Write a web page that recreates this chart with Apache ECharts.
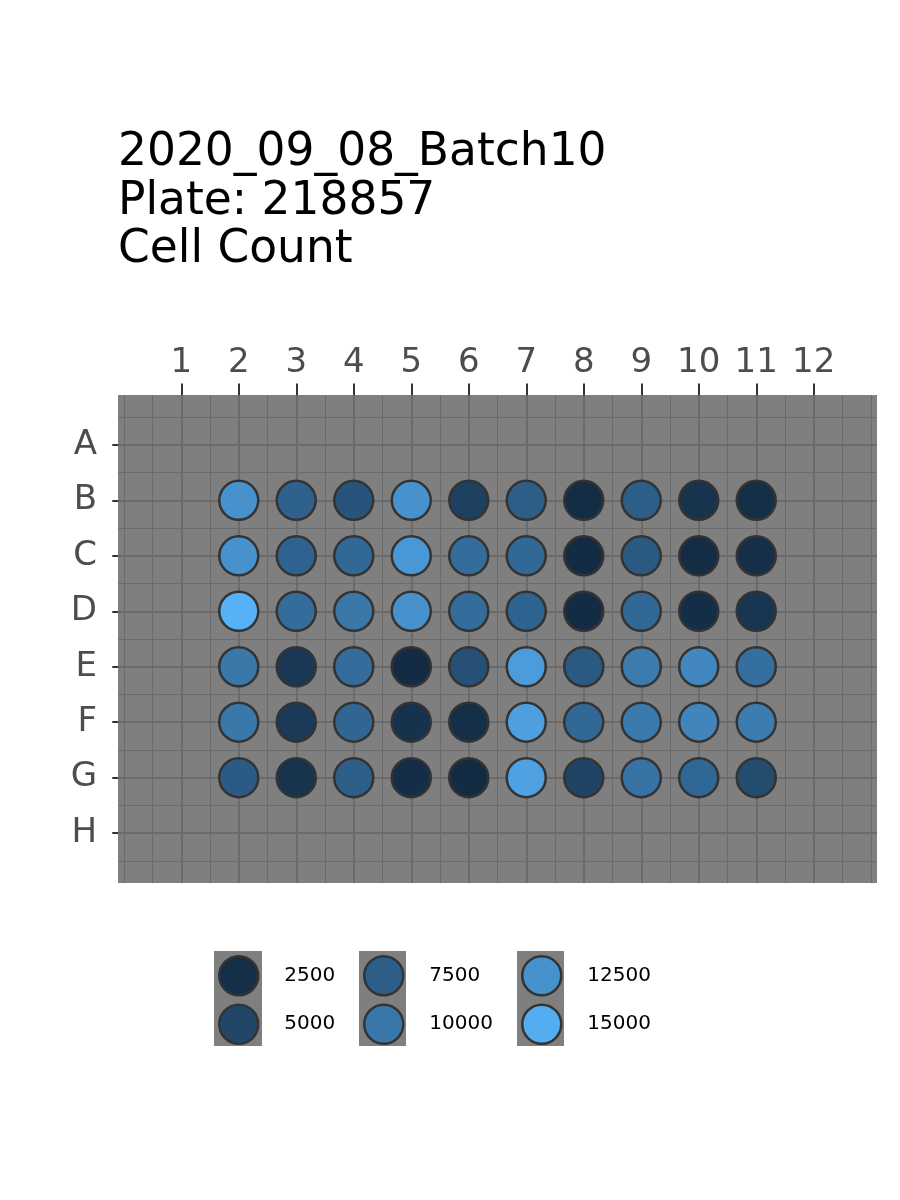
<!DOCTYPE html>
<html>
<head>
<meta charset="utf-8">
<script src="https://cdn.jsdelivr.net/npm/echarts@6/dist/echarts.min.js"></script>
<style>html,body{margin:0;padding:0;background:#fff}#c{width:900px;height:1200px}</style>
</head>
<body>
<div id="c"></div>
<script>
// ---------- data ----------
const titleLines = ['2020_09_08_Batch10', 'Plate: 218857', 'Cell Count'];
const colLabels = [1, 2, 3, 4, 5, 6, 7, 8, 9, 10, 11, 12];
const rowLabels = ['A', 'B', 'C', 'D', 'E', 'F', 'G', 'H'];
const wellCols = [2, 3, 4, 5, 6, 7, 8, 9, 10, 11];
const wellRows = ['B', 'C', 'D', 'E', 'F', 'G'];
const rowB = [12500, 7800, 6500, 12500, 4500, 7500, 2200, 7500, 3000, 2500];
const rowC = [12500, 8000, 8500, 13000, 9000, 8500, 2100, 7000, 2200, 2400];
const rowD = [15400, 9000, 10000, 12500, 9000, 8000, 2100, 8500, 2300, 3200];
const rowE = [10000, 3500, 9000, 2000, 6000, 13500, 7000, 10300, 11500, 9200];
const rowF = [10000, 3700, 8300, 2800, 2400, 13800, 8500, 10200, 11300, 10500];
const rowG = [7200, 2900, 7600, 2300, 2100, 14000, 4800, 9600, 8400, 5600];
const legendBreaks = [2500, 5000, 7500, 10000, 12500, 15000];
const lowColor = '#132B43';
const highColor = '#56B1F7';

// ---------- colour scale (Lab interpolation like ggplot) ----------
function srgbToLin(c) { c /= 255; return c <= 0.04045 ? c / 12.92 : Math.pow((c + 0.055) / 1.055, 2.4); }
function linToSrgb(c) { c = c <= 0.0031308 ? 12.92 * c : 1.055 * Math.pow(c, 1 / 2.4) - 0.055; return Math.max(0, Math.min(255, Math.round(c * 255))); }
const Xn = 0.95047, Yn = 1.0, Zn = 1.08883;
function f(t) { return t > 216 / 24389 ? Math.cbrt(t) : (24389 / 27 * t + 16) / 116; }
function finv(t) { return t * t * t > 216 / 24389 ? t * t * t : (116 * t - 16) / (24389 / 27); }
function hexToLab(hex) {
  const r = srgbToLin(parseInt(hex.slice(1, 3), 16)), g = srgbToLin(parseInt(hex.slice(3, 5), 16)), b = srgbToLin(parseInt(hex.slice(5, 7), 16));
  const X = 0.4124 * r + 0.3576 * g + 0.1805 * b, Y = 0.2126 * r + 0.7152 * g + 0.0722 * b, Z = 0.0193 * r + 0.1192 * g + 0.9505 * b;
  const fx = f(X / Xn), fy = f(Y / Yn), fz = f(Z / Zn);
  return [116 * fy - 16, 500 * (fx - fy), 200 * (fy - fz)];
}
function labToHex(lab) {
  const fy = (lab[0] + 16) / 116, fx = fy + lab[1] / 500, fz = fy - lab[2] / 200;
  const X = Xn * finv(fx), Y = Yn * finv(fy), Z = Zn * finv(fz);
  const r = 3.2406 * X - 1.5372 * Y - 0.4986 * Z, g = -0.9689 * X + 1.8758 * Y + 0.0415 * Z, b = 0.0557 * X - 0.2040 * Y + 1.0570 * Z;
  return '#' + [r, g, b].map(v => linToSrgb(v).toString(16).padStart(2, '0')).join('');
}
const labLo = hexToLab(lowColor), labHi = hexToLab(highColor);
function colorAt(t) { t = Math.max(0, Math.min(1, t)); return labToHex(labLo.map((v, i) => v + (labHi[i] - v) * t)); }

// ---------- build ----------
const rowValues = { B: rowB, C: rowC, D: rowD, E: rowE, F: rowF, G: rowG };
const wellData = [];
wellRows.forEach(r => {
  const ri = rowLabels.indexOf(r) + 1;
  rowValues[r].forEach((v, j) => wellData.push([wellCols[j], ri, v]));
});
const allVals = wellData.map(d => d[2]);
const vMin = Math.min(...allVals), vMax = Math.max(...allVals);
const stops = [];
for (let i = 0; i <= 20; i++) stops.push(colorAt(i / 20));

const xMin = -0.1, xMax = 13.1, yMin = 0.1, yMax = 8.9;
const gridColor = '#6b6b6b';
const markData = [];
for (let v = 0; v <= 13; v += 0.5) {
  if (v > xMin && v < xMax) markData.push({ xAxis: v, lineStyle: { width: Number.isInteger(v) && v >= 1 && v <= 12 ? 2 : 1, color: gridColor } });
}
for (let v = 0; v <= 9; v += 0.5) {
  if (v > yMin && v < yMax) markData.push({ yAxis: v, lineStyle: { width: Number.isInteger(v) && v >= 1 && v <= 8 ? 2 : 1, color: gridColor } });
}

const legendSeries = legendBreaks.map(b => ({
  type: 'scatter', name: String(b), data: [], symbol: 'circle',
  itemStyle: { color: colorAt((b - vMin) / (vMax - vMin)), borderColor: '#333333', borderWidth: 2.5, opacity: 1 }
}));

const font = 'DejaVu Sans';
const legendLefts = [218, 363, 521];
const legendBase = {
  orient: 'vertical', top: 955, padding: 0, itemGap: 7,
  itemWidth: 39, itemHeight: 39, icon: 'circle', selectedMode: false, z: 10,
  itemStyle: { borderColor: '#333333', borderWidth: 2.5, opacity: 1 },
  textStyle: { fontFamily: font, fontSize: 20, color: '#000000', padding: [0, 0, 0, 21] }
};
const legends = legendLefts.map((l, k) => Object.assign({}, legendBase, { left: l, data: legendBreaks.slice(k * 2, k * 2 + 2).map(String) }));

const option = {
  animation: false,
  title: {
    text: titleLines.join('\n'), left: 118, top: 129, padding: 0,
    textStyle: { fontFamily: font, fontSize: 45.5, fontWeight: 'normal', color: '#000000', lineHeight: 48.5 }
  },
  grid: { left: 118, top: 395, width: 759, height: 488, show: true, backgroundColor: '#7f7f7f', borderWidth: 0 },
  xAxis: {
    type: 'value', position: 'top', min: xMin, max: xMax,
    axisLine: { show: false }, splitLine: { show: false },
    axisTick: { show: true, length: 11.5, customValues: colLabels, lineStyle: { color: '#333333', width: 2 } },
    axisLabel: { customValues: colLabels, margin: 15, fontSize: 34, color: '#4d4d4d', fontFamily: font }
  },
  yAxis: {
    type: 'value', inverse: true, min: yMin, max: yMax,
    axisLine: { show: false }, splitLine: { show: false },
    axisTick: { show: true, length: 11.5, customValues: rowLabels.map((_, i) => i + 1), lineStyle: { color: '#333333', width: 2 } },
    axisLabel: { customValues: rowLabels.map((_, i) => i + 1), formatter: v => rowLabels[Math.round(v) - 1], margin: 21, padding: [4, 0, 0, 0], fontSize: 34, color: '#4d4d4d', fontFamily: font }
  },
  visualMap: { show: false, type: 'continuous', seriesIndex: 1, dimension: 2, min: vMin, max: vMax, inRange: { color: stops } },
  legend: legends,
  graphic: [
    { type: 'rect', left: 214, top: 951, shape: { width: 48, height: 95 }, style: { fill: '#7f7f7f' }, z: 1 },
    { type: 'rect', left: 359, top: 951, shape: { width: 47, height: 95 }, style: { fill: '#7f7f7f' }, z: 1 },
    { type: 'rect', left: 517, top: 951, shape: { width: 47, height: 95 }, style: { fill: '#7f7f7f' }, z: 1 }
  ],
  series: [
    {
      type: 'scatter', name: 'grid', data: [], z: 1, silent: true,
      markLine: { z: 1, silent: true, symbol: ['none', 'none'], label: { show: false }, animation: false, lineStyle: { type: 'solid' }, data: markData }
    },
    {
      type: 'scatter', name: 'wells', data: wellData, z: 3, symbol: 'circle', symbolSize: 39,
      itemStyle: { borderColor: '#333333', borderWidth: 2.5, opacity: 1 }
    }
  ].concat(legendSeries)
};
const chart = echarts.init(document.getElementById('c'), null, { renderer: 'canvas' });
chart.setOption(option);
</script>
</body>
</html>
